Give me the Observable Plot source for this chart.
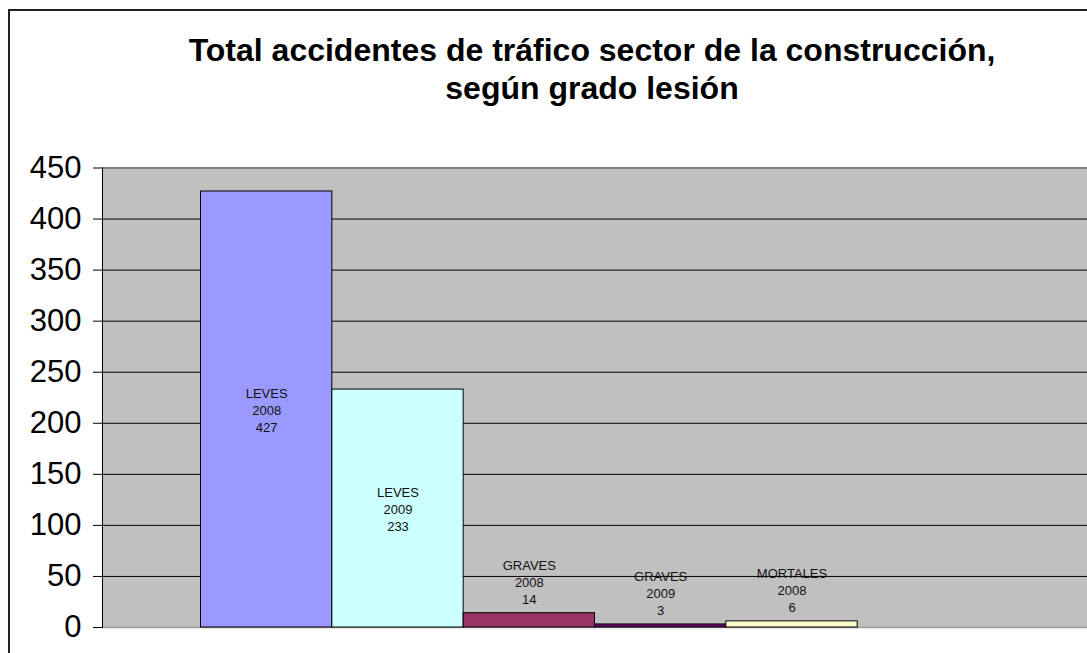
<!DOCTYPE html>
<html>
<head>
<meta charset="utf-8">
<script src="https://cdn.jsdelivr.net/npm/d3@7"></script>
<script src="https://cdn.jsdelivr.net/npm/@observablehq/plot@0.6"></script>
<style>
  html, body { margin: 0; padding: 0; background: #fff; overflow: hidden; }
  body { width: 1087px; height: 653px; position: relative; font-family: Arial, "Liberation Sans", sans-serif; }
  #frame { position: absolute; left: 8px; top: 9px; width: 2000px; height: 2000px;
           border-left: 2px solid #222; border-top: 2px solid #222; box-sizing: border-box; }
  #title { position: absolute; left: 92px; top: 31px; width: 1000px; text-align: center;
           font-weight: bold; font-size: 32px; line-height: 38px; color: #000; }
  #chart { position: absolute; left: 0; top: 150px; }
</style>
</head>
<body>
<div id="frame"></div>
<div id="title">Total accidentes de tráfico sector de la construcción,<br>según grado lesión</div>
<div id="chart"></div>
<script>
// --- data ---
const grades = ["LEVES", "LEVES", "GRAVES", "GRAVES", "MORTALES"];
const years  = ["2008", "2009", "2008", "2009", "2008"];
const values = [427, 233, 14, 3, 6];
const colors = ["#9999FF", "#CCFFFF", "#993366", "#660066", "#FFFFCC"];
const yTicks = [0, 50, 100, 150, 200, 250, 300, 350, 400, 450];

const keys = grades.map((g, i) => `${g} ${years[i]}`);
const slots = [...keys, ""]; // empty sixth series slot
const data = values.map((v, i) => ({key: keys[i], grade: grades[i], year: years[i], value: v, color: colors[i]}));
const label = d => `${d.grade}\n${d.year}\n${d.value}`;

const chart = Plot.plot({
  width: 1087,
  height: 503,
  marginTop: 17.5,
  marginBottom: 26,
  marginLeft: 102,
  marginRight: 0,
  style: {background: "transparent", fontFamily: "Arial, 'Liberation Sans', sans-serif", overflow: "visible"},
  x: {type: "band", domain: slots, paddingInner: 0, paddingOuter: 0.75, round: false, axis: null},
  y: {domain: [0, 450], axis: null},
  color: {type: "identity"},
  marks: [
    Plot.frame({fill: "#C0C0C0", stroke: null}),
    Plot.ruleY(yTicks.filter(t => t > 0 && t < 450), {stroke: "#000", strokeWidth: 1}),
    Plot.ruleY([450], {stroke: "#808080", strokeWidth: 2}),
    Plot.ruleY([0], {stroke: "#9a9a9a", strokeWidth: 1.5}),
    Plot.barY(data, {x: "key", y: "value", fill: "color", stroke: "#000", strokeWidth: 1}),
    Plot.frame({anchor: "left", stroke: "#000", strokeWidth: 1}),
    Plot.axisY({ticks: yTicks, tickSize: 9, tickPadding: 12, fontSize: 31, tickFormat: d => String(d), stroke: "#000", fill: "#000", label: null}),
    Plot.text(data.filter(d => d.value >= 50), {x: "key", y: d => d.value / 2, text: label, fontSize: 13, lineHeight: 17 / 13, fill: "#111"}),
    Plot.text(data.filter(d => d.value < 50), {x: "key", y: "value", text: label, fontSize: 13, lineHeight: 17 / 13, lineAnchor: "bottom", dy: -9, fill: "#111"})
  ]
});
document.getElementById("chart").appendChild(chart);
</script>
</body>
</html>
